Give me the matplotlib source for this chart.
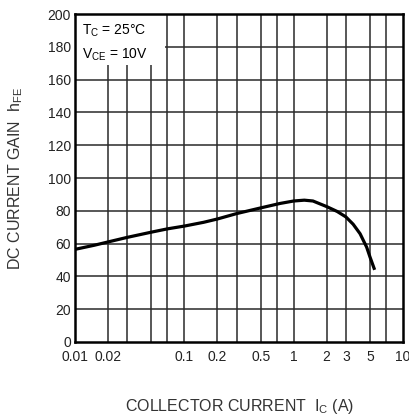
import matplotlib
matplotlib.use("Agg")
import matplotlib.pyplot as plt
from matplotlib.patches import Rectangle

# Data
ic = [0.01, 0.015, 0.02, 0.03, 0.05, 0.07, 0.1, 0.15, 0.2, 0.3, 0.5, 0.75,
      1.0, 1.25, 1.5, 2.0, 2.5, 3.0, 3.5, 4.05, 4.65, 5.0, 5.5]
hfe = [56.5, 59, 61, 63.8, 67, 69, 70.7, 73, 75, 78.3, 81.8, 84.5,
       86, 86.5, 86.0, 82.6, 79.6, 76.3, 71.8, 66, 57.8, 51.6, 44]

xticks = [0.01, 0.02, 0.1, 0.2, 0.5, 1, 2, 3, 5, 10]
xtick_labels = ["0.01", "0.02", "0.1", "0.2", "0.5", "1", "2", "3", "5", "10"]
xgrid = [0.02, 0.03, 0.05, 0.07, 0.1, 0.2, 0.3, 0.5, 0.7, 1, 2, 3, 5, 7]
yticks = list(range(0, 201, 20))

plt.rcParams['font.family'] = ['Liberation Sans', 'DejaVu Sans']

fig = plt.figure(figsize=(4.10, 4.16), dpi=100)
ax = fig.add_axes([0.183, 0.178, 0.800, 0.788])
ax.set_xscale('log')
ax.set_xlim(0.01, 10)
ax.set_ylim(0, 200)

gc = '#2a2a2a'
for xv in xgrid:
    ax.axvline(xv, color=gc, lw=1.1, zorder=1)
for yv in yticks[1:-1]:
    ax.axhline(yv, color=gc, lw=1.1, zorder=1)

# white area behind the condition text
ax.add_patch(Rectangle((0.01, 169), 0.066 - 0.01, 31, facecolor='white',
                       edgecolor='none', zorder=2))

ax.plot(ic, hfe, color='black', lw=2.3, solid_capstyle='butt',
        solid_joinstyle='round', zorder=4)

ax.text(0.0115, 190, r"T$_\mathregular{C}$ = 25°C", fontsize=10, va='center', ha='left', zorder=5)
ax.text(0.0115, 175, r"V$_\mathregular{CE}$ = 10V", fontsize=10, va='center', ha='left', zorder=5)

ax.set_xticks(xticks)
ax.set_xticklabels(xtick_labels)
ax.xaxis.set_minor_locator(matplotlib.ticker.NullLocator())
ax.set_yticks(yticks)
ax.tick_params(axis='both', length=0, labelsize=10, colors='#222222')
ax.tick_params(axis='x', pad=6)
ax.tick_params(axis='y', pad=3)

for s in ax.spines.values():
    s.set_linewidth(1.8)
    s.set_color('black')
    s.set_zorder(6)

fig.text(0.037, 0.572, r"DC CURRENT GAIN  h$_\mathregular{FE}$", rotation=90,
         fontsize=11.5, ha='center', va='center', color='#333333')
fig.text(0.585, 0.022, r"COLLECTOR CURRENT  I$_\mathregular{C}$ (A)",
         fontsize=11.5, ha='center', va='center', color='#333333')

fig.savefig("out.png", dpi=100)
